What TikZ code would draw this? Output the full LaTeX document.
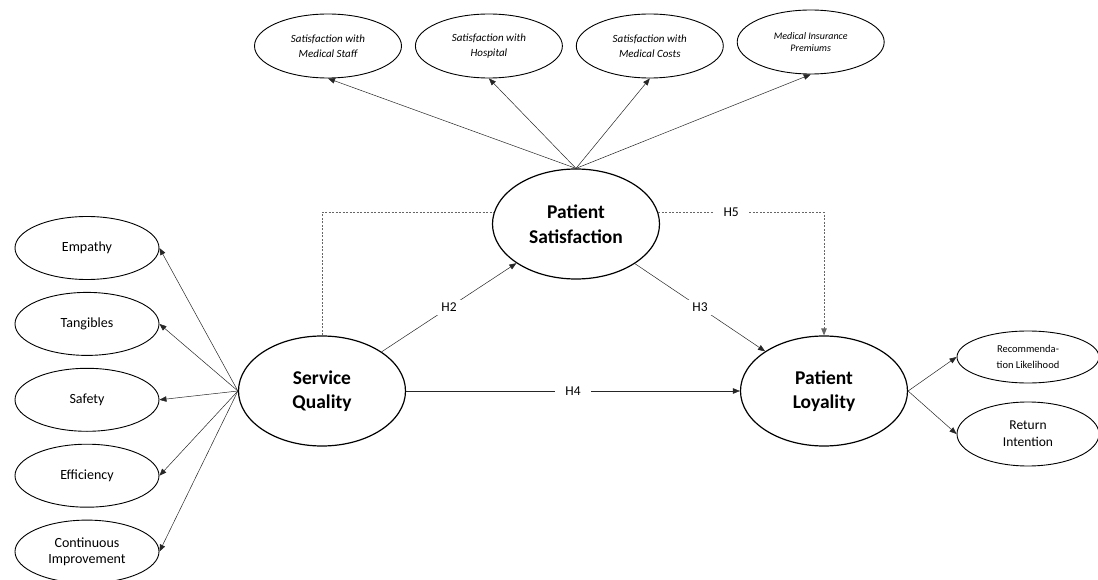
\documentclass[tikz,border=0pt]{standalone}
\usepackage{fontspec}
\setmainfont{Carlito}
\usetikzlibrary{positioning,arrows.meta,shapes.geometric}

\begin{document}
\begin{tikzpicture}[
  x=1pt, y=-1pt,
  >={Triangle[length=7pt,width=5.5pt]},
  latent/.style={draw, ellipse, line width=1.2pt, inner sep=0pt, minimum width=167pt, minimum height=110pt, align=center, font=\fontsize{19.5}{24.5}\selectfont\bfseries},
  facet/.style={draw, ellipse, line width=0.9pt, inner sep=0pt, minimum width=144pt, minimum height=63pt, align=center, font=\fontsize{14}{16.5}\selectfont},
  subsat/.style={draw, ellipse, line width=0.9pt, inner sep=0pt, minimum width=147pt, minimum height=64pt, align=center, font=\fontsize{11}{15}\selectfont\itshape},
  arrow/.style={->, black!85, line width=0.5pt},
  indirect/.style={black!60, line width=0.8pt, dash pattern=on 2pt off 1.5pt},
  lbl/.style={fill=white, text=black, inner xsep=10pt, inner ysep=3pt, font=\fontsize{13.5}{16}\selectfont}
]
\useasboundingbox (0,0) rectangle (1098,580);

% Latent constructs
\node[latent] (sq) at (322,391) {Service\\Quality};
\node[latent] (ps) at (576,224) {Patient\\Satisfaction};
\node[latent] (pl) at (824,391) {Patient\\Loyality};

% Satisfaction indicators (top row)
\node[subsat] (staff) at (328,46) {Satisfaction with\\Medical Staff};
\node[subsat, right=13pt of staff] (hosp) {Satisfaction with\\Hospital};
\node[subsat, right=13pt of hosp] (costs) {Satisfaction with\\Medical Costs};
\node[subsat, right=13pt of costs, yshift=4pt, font=\fontsize{10}{12}\selectfont\itshape] (prem) {Medical Insurance\\Premiums};

% Service quality dimensions (left column)
\node[facet] (emp) at (87,248) {Empathy};
\node[facet, below=12pt of emp] (tang) {Tangibles};
\node[facet, below=12pt of tang] (safe) {Safety};
\node[facet, below=12pt of safe] (eff) {Efficiency};
\node[facet, below=12pt of eff] (cont) {Continuous\\Improvement};

% Loyalty indicators (right)
\node[facet, minimum width=142pt, minimum height=52pt, font=\fontsize{10.5}{16.5}\selectfont] (rec) at (1028,357) {Recommenda-\\tion Likelihood};
\node[facet, minimum width=142pt, minimum height=64pt, font=\fontsize{13.5}{17}\selectfont] (ret) at (1028,434) {Return\\Intention};

% Measurement arrows
\foreach \t in {staff,hosp,costs,prem}
  \draw[arrow] (ps.north) -- (\t.south);
\foreach \f in {emp,tang,safe,eff,cont}
  \draw[arrow] (sq.west) -- (\f.east);
\draw[arrow] (pl.east) -- (rec.west);
\draw[arrow] (pl.east) -- (ret.west);

% Hypotheses
\draw[arrow] (sq) -- node[lbl] {H2} (ps);
\draw[arrow] (ps) -- node[lbl] {H3} (pl);
\draw[arrow] (sq) -- node[lbl] {H4} (pl);

% Mediated path (dashed)
\draw[indirect] (sq.north) |- (ps.172);
\draw[indirect, ->] (ps.8) -| node[lbl, pos=0.22] {H5} (pl.north);

\end{tikzpicture}
\end{document}
